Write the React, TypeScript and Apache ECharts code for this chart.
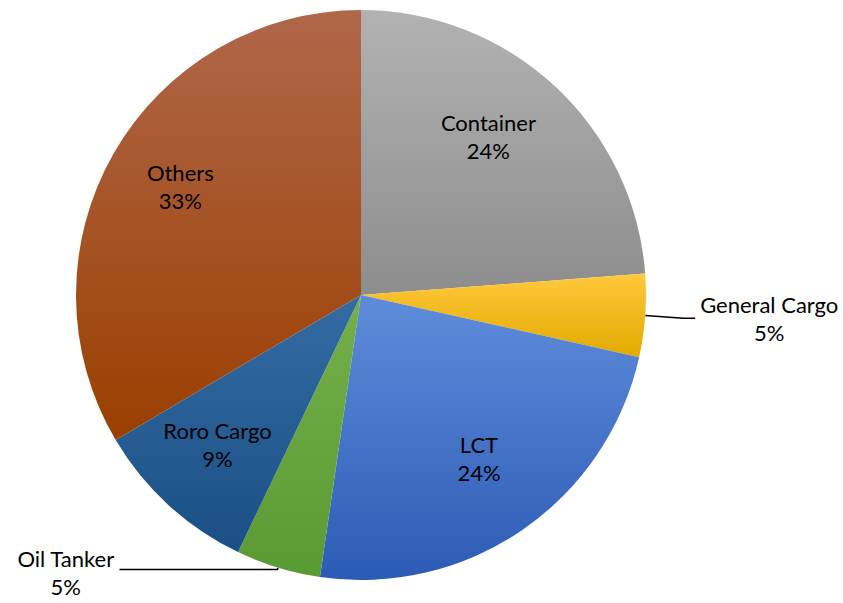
import React, { useEffect, useRef } from "react";
import * as echarts from "echarts";

const categories = ["Container", "General Cargo", "LCT", "Oil Tanker", "Roro Cargo", "Others"];
const values = [23.8, 4.7, 23.8, 4.8, 9.4, 33.5];
const topColors = ["#b2b2b2", "#ffc93c", "#5f8cda", "#74b04b", "#336ca3", "#b0674a"];
const bottomColors = ["#8d8d8d", "#e2a900", "#2c5bb6", "#5a9a33", "#1b4f85", "#9b3f00"];
const outsideLabels = ["General Cargo", "Oil Tanker"];
const labelPadding: Record<string, number[]> = {
  Container: [0, 28, 12, 0],
  "General Cargo": [0, 0, 0, 0],
  LCT: [0, 0, 16, 0],
  "Oil Tanker": [6, 0, 0, 0],
  "Roro Cargo": [0, 6, 8, 0],
  Others: [0, 0, 10, 0],
};

const FONT = "Lato";

export default function App() {
  const ref = useRef<HTMLDivElement>(null);
  useEffect(() => {
    if (!ref.current) return;
    const chart = echarts.init(ref.current, null, { renderer: "svg" });
    const center = [361, 295];
    const mainData = categories.map((name, i) => ({
      name,
      value: values[i],
      itemStyle: {
        color: new echarts.graphic.LinearGradient(0, 0, 0, 1, [
          { offset: 0, color: topColors[i] },
          { offset: 1, color: bottomColors[i] },
        ]),
      },
    }));
    const labelData = categories.map((name, i) => {
      const outside = outsideLabels.includes(name);
      const isLeft = name === "Oil Tanker";
      return {
        name,
        value: values[i],
        itemStyle: { color: "rgba(0,0,0,0)" },
        label: outside
          ? {
              position: "outside",
              formatter: "{c|{b}}\n{c|{d}%}",
              padding: labelPadding[name],
            }
          : { position: "inside", formatter: "{b}\n{d}%", padding: labelPadding[name] },
        labelLine: outside
          ? {
              show: true,
              length: isLeft ? 2 : 38,
              length2: isLeft ? 158 : 12,
              lineStyle: { color: "#000", width: 1.5 },
            }
          : { show: false },
      };
    });
    chart.setOption({
      animation: false,
      backgroundColor: "#ffffff",
      series: [
        {
          type: "pie",
          center,
          radius: [0, 285],
          startAngle: 90,
          clockwise: true,
          avoidLabelOverlap: false,
          silent: true,
          label: { show: false },
          labelLine: { show: false },
          itemStyle: { borderWidth: 0 },
          data: mainData,
        },
        {
          type: "pie",
          center,
          radius: [125, 285],
          startAngle: 90,
          clockwise: true,
          avoidLabelOverlap: false,
          silent: true,
          percentPrecision: 0,
          itemStyle: { borderWidth: 0 },
          label: {
            show: true,
            color: "#000",
            fontFamily: FONT,
            fontSize: 22,
            lineHeight: 28,
            rich: {
              c: { align: "center", fontFamily: FONT, fontSize: 22, lineHeight: 28, color: "#000" },
            },
          },
          data: labelData,
        },
      ],
    });
    return () => chart.dispose();
  }, []);
  return (
    <div
      ref={ref}
      style={{ position: "absolute", left: 0, top: 0, width: 843, height: 603 }}
    />
  );
}
